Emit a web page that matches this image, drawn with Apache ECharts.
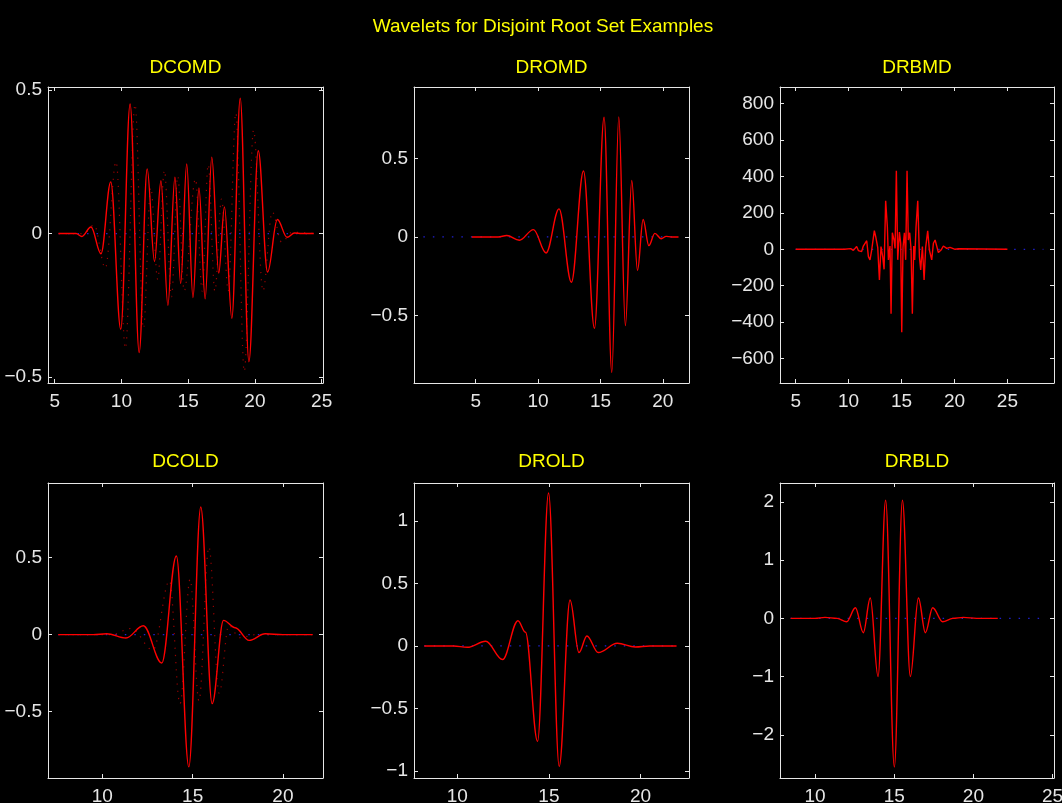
<!DOCTYPE html>
<html>
<head>
<meta charset="utf-8">
<script src="https://cdn.jsdelivr.net/npm/echarts@6/dist/echarts.min.js"></script>
<style>html,body{margin:0;padding:0;background:#000;}#c{width:1062px;height:803px;}</style>
</head>
<body>
<div id="c"></div>
<script>
// ---------- DATA ----------
const mainTitle = 'Wavelets for Disjoint Root Set Examples';
const panelTitles = ['DCOMD', 'DROMD', 'DRBMD', 'DCOLD', 'DROLD', 'DRBLD'];

// tick values
const xTicks1 = [5, 10, 15, 20, 25];
const xTicks2 = [5, 10, 15, 20];
const xTicks3 = [5, 10, 15, 20, 25];
const xTicks4 = [10, 15, 20];
const xTicks5 = [10, 15, 20];
const xTicks6 = [10, 15, 20, 25];
const yTicks1 = [-0.5, 0, 0.5];
const yTicks2 = [-0.5, 0, 0.5];
const yTicks3 = [-600, -400, -200, 0, 200, 400, 600, 800];
const yTicks4 = [-0.5, 0, 0.5];
const yTicks5 = [-1, -0.5, 0, 0.5, 1];
const yTicks6 = [-2, -1, 0, 1, 2];

// axis limits
const xLim1 = [4.5, 25.1], yLim1 = [-0.52, 0.51];
const xLim2 = [0.05, 22.1], yLim2 = [-0.932, 0.957];
const xLim3 = [3.52, 29.4], yLim3 = [-734, 891];
const xLim4 = [6.99, 22.22], yLim4 = [-0.931, 0.985];
const xLim5 = [7.64, 22.64], yLim5 = [-1.056, 1.303];
const xLim6 = [7.79, 25.09], yLim6 = [-2.743, 2.326];

// DCOMD solid (extrema)
const dcomdX = [5.29, 6.6, 7.04, 7.72, 8.47, 9.20, 9.95, 10.65, 11.33, 11.93, 12.48, 12.96, 13.48, 14.01, 14.44, 14.89, 15.36, 15.81, 16.27, 16.77, 17.29, 17.72, 18.27, 18.90, 19.55, 20.25, 20.95, 21.68, 22.41, 22.96, 23.5, 24.41];
const dcomdY = [0, 0, -0.01, 0.023, -0.07, 0.18, -0.333, 0.451, -0.414, 0.225, -0.097, 0.184, -0.25, 0.196, -0.174, 0.242, -0.223, 0.159, -0.227, 0.266, -0.137, 0.093, -0.295, 0.471, -0.446, 0.288, -0.134, 0.049, -0.013, 0.002, 0, 0];
// DCOMD dotted companion
const dcomdDotX = [5.29, 7.2, 7.95, 8.8, 9.6, 10.3, 11.02, 11.65, 12.2, 12.72, 13.22, 13.75, 14.22, 14.7, 15.55, 16.05, 16.5, 17.0, 17.5, 18.0, 18.57, 19.2, 19.9, 20.6, 21.3, 22.0, 22.8, 24.41];
const dcomdDotY = [0, 0, 0.03, -0.12, 0.25, -0.40, 0.45, -0.33, 0.16, -0.16, 0.22, -0.22, 0.2, -0.2, 0.19, -0.2, 0.24, -0.2, 0.12, -0.2, 0.42, -0.48, 0.36, -0.2, 0.075, -0.03, 0.005, 0];

// DROMD
const dromdX = [4.68, 6.8, 7.49, 8.5, 9.63, 10.64, 11.68, 12.67, 13.64, 14.52, 15.29, 15.91, 16.47, 17.0, 17.51, 17.97, 18.42, 18.88, 19.36, 19.87, 20.27, 20.7, 21.26];
const dromdY = [0, 0, 0.009, -0.021, 0.047, -0.102, 0.179, -0.289, 0.421, -0.583, 0.764, -0.864, 0.766, -0.566, 0.36, -0.213, 0.111, -0.055, 0.023, -0.011, 0.004, 0, 0];

// DRBMD (jagged)
const drbmdX = [5, 9.6, 10.2, 10.45, 10.76, 10.92, 11.23, 11.39, 11.55, 11.71, 11.87, 12.02, 12.18, 12.43, 12.56, 12.75, 12.91, 13.06, 13.22, 13.35, 13.50, 13.66, 13.76, 13.91, 14.01, 14.13, 14.29, 14.39, 14.51, 14.64, 14.80, 14.92, 15.02, 15.14, 15.27, 15.39, 15.52, 15.64, 15.77, 15.90, 16.02, 16.15, 16.24, 16.37, 16.53, 16.69, 16.81, 16.97, 17.13, 17.28, 17.47, 17.63, 17.85, 18.01, 18.17, 18.32, 18.48, 18.73, 18.95, 19.27, 19.58, 20.06, 20.4, 25];
const drbmdY = [0, 0, 4, -6, 15, -7, -13, 18, 33, 47, -40, -58, -4, 102, 69, 11, -168, 15, -40, -110, 266, 124, -58, 18, -354, 91, 51, 5, 431, -58, 95, 33, -455, 11, 91, -58, 431, 51, 91, 0, -354, 18, -58, 124, 266, -40, -113, 15, -168, 11, 102, -4, -58, 33, 51, 18, -18, -4, 18, 5, 11, 0, 3, 0];

// DCOLD
const dcoldX = [7.56, 9.5, 10.24, 11.31, 12.27, 13.29, 14.10, 14.79, 15.45, 16.08, 16.71, 17.36, 18.13, 19.02, 20.0, 21.65];
const dcoldY = [0, 0, 0.006, -0.022, 0.058, -0.184, 0.511, -0.859, 0.829, -0.448, 0.093, 0.045, -0.037, 0.006, 0, 0];
const dcoldDotX = [7.56, 10.5, 11.6, 12.8, 13.72, 14.3, 14.86, 15.35, 15.9, 16.47, 17.0, 17.6, 18.5, 21.65];
const dcoldDotY = [0, 0, 0.04, -0.1, 0.35, -0.45, 0.36, -0.43, 0.57, -0.38, 0.06, -0.02, 0, 0];

// DROLD
const droldX = [8.2, 9.8, 10.55, 11.55, 12.47, 13.31, 13.72, 14.38, 14.98, 15.56, 16.15, 16.64, 17.07, 17.69, 18.73, 19.71, 20.5, 21.96];
const droldY = [0, 0, -0.011, 0.037, -0.109, 0.202, 0.11, -0.763, 1.223, -0.963, 0.367, -0.053, 0.08, -0.053, 0.021, -0.008, 0, 0];

// DRBLD
const drbldX = [8.46, 10.0, 10.63, 11.4, 12.0, 12.55, 13.05, 13.49, 13.98, 14.46, 15.01, 15.52, 16.02, 16.53, 16.97, 17.43, 18.06, 18.7, 19.37, 20.2, 21.54];
const drbldY = [0, 0, 0.017, 0, -0.057, 0.183, -0.246, 0.349, -1.0, 2.03, -2.554, 2.03, -1.0, 0.349, -0.246, 0.183, -0.057, 0, 0.017, 0, 0];

// blue dotted zero-line extents
const zeroLine1 = [5.29, 24.41];
const zeroLine2 = [0.8, 21.26];
const zeroLine3 = [5, 28.4];
const zeroLine4 = [7.56, 21.65];
const zeroLine5 = [8.2, 21.96];
const zeroLine6 = [8.46, 24.4];

// ---------- BUILD ----------
const pairs = (xs, ys) => xs.map((x, i) => [x, ys[i]]);
const FRAME = '#e6e6e6';
const FONT = 'Liberation Sans, Arial, Helvetica, sans-serif';
const FS = 19;
const fmt = v => (v < 0 ? '\u2212' : '') + Math.abs(v);

const panels = [
  {box: [48, 87, 275, 296], xl: xLim1, yl: yLim1, xt: xTicks1, yt: yTicks1, main: pairs(dcomdX, dcomdY), dot: pairs(dcomdDotX, dcomdDotY), zero: zeroLine1, smooth: true},
  {box: [414, 87, 275, 296], xl: xLim2, yl: yLim2, xt: xTicks2, yt: yTicks2, main: pairs(dromdX, dromdY), dot: null, zero: zeroLine2, smooth: true},
  {box: [780, 87, 274, 296], xl: xLim3, yl: yLim3, xt: xTicks3, yt: yTicks3, main: pairs(drbmdX, drbmdY), dot: null, zero: zeroLine3, smooth: false},
  {box: [48, 483, 275, 295], xl: xLim4, yl: yLim4, xt: xTicks4, yt: yTicks4, main: pairs(dcoldX, dcoldY), dot: pairs(dcoldDotX, dcoldDotY), zero: zeroLine4, smooth: true},
  {box: [414, 483, 275, 295], xl: xLim5, yl: yLim5, xt: xTicks5, yt: yTicks5, main: pairs(droldX, droldY), dot: null, zero: zeroLine5, smooth: true},
  {box: [780, 483, 274, 295], xl: xLim6, yl: yLim6, xt: xTicks6, yt: yTicks6, main: pairs(drbldX, drbldY), dot: null, zero: zeroLine6, smooth: true}
];

const grid = [], xAxis = [], yAxis = [], series = [];
const titles = [{
  text: mainTitle, left: 538, top: 12, textAlign: 'center',
  textStyle: {color: '#ffff00', fontSize: FS, fontWeight: 'normal', fontFamily: FONT}
}];

panels.forEach((p, i) => {
  const [l, t, w, h] = p.box;
  grid.push({left: l, top: t, width: w, height: h, show: false, containLabel: false, outerBoundsMode: 'none'});
  titles.push({
    text: panelTitles[i], left: l + w / 2 - 5, top: t - (i < 3 ? 34 : 36), textAlign: 'center',
    textStyle: {color: '#ffff00', fontSize: FS, fontWeight: 'normal', fontFamily: FONT}
  });
  const lineSt = {color: FRAME, width: 1};
  ['bottom', 'top'].forEach((pos, k) => {
    xAxis.push({
      gridIndex: i, type: 'value', position: pos, min: p.xl[0], max: p.xl[1],
      axisLine: {show: true, onZero: false, lineStyle: lineSt},
      axisTick: {show: true, inside: true, length: 4, customValues: p.xt, lineStyle: lineSt},
      axisLabel: {show: k === 0, customValues: p.xt, formatter: fmt, color: FRAME, fontSize: FS, fontFamily: FONT, margin: 9},
      splitLine: {show: false}
    });
  });
  ['left', 'right'].forEach((pos, k) => {
    yAxis.push({
      gridIndex: i, type: 'value', position: pos, min: p.yl[0], max: p.yl[1],
      axisLine: {show: true, onZero: false, lineStyle: lineSt},
      axisTick: {show: true, inside: true, length: 4, customValues: p.yt, lineStyle: lineSt},
      axisLabel: {show: k === 0, customValues: p.yt, formatter: fmt, color: FRAME, fontSize: FS, fontFamily: FONT, margin: 6},
      splitLine: {show: false}
    });
  });
  const xi = 2 * i, yi = 2 * i;
  series.push({
    type: 'line', xAxisIndex: xi, yAxisIndex: yi, data: [[p.zero[0], 0], [p.zero[1], 0]],
    showSymbol: false, symbol: 'none', silent: true, z: 1,
    lineStyle: {color: '#2020d0', width: 1.2, type: [1.5, 8]}
  });
  if (p.dot) {
    series.push({
      type: 'line', xAxisIndex: xi, yAxisIndex: yi, data: p.dot,
      showSymbol: false, symbol: 'none', silent: true, z: 2,
      smooth: 0.36, smoothMonotone: 'x',
      lineStyle: {color: '#9a0000', width: 1.2, type: [1.2, 6]}
    });
  }
  series.push({
    type: 'line', xAxisIndex: xi, yAxisIndex: yi, data: p.main,
    showSymbol: false, symbol: 'none', silent: true, z: 3,
    smooth: p.smooth ? 0.36 : false, smoothMonotone: p.smooth ? 'x' : undefined,
    lineStyle: {color: '#ff0000', width: 1.4}
  });
});

const chart = echarts.init(document.getElementById('c'), null, {renderer: 'canvas'});
chart.setOption({
  backgroundColor: '#000',
  animation: false,
  title: titles,
  grid, xAxis, yAxis, series
});
</script>
</body>
</html>
